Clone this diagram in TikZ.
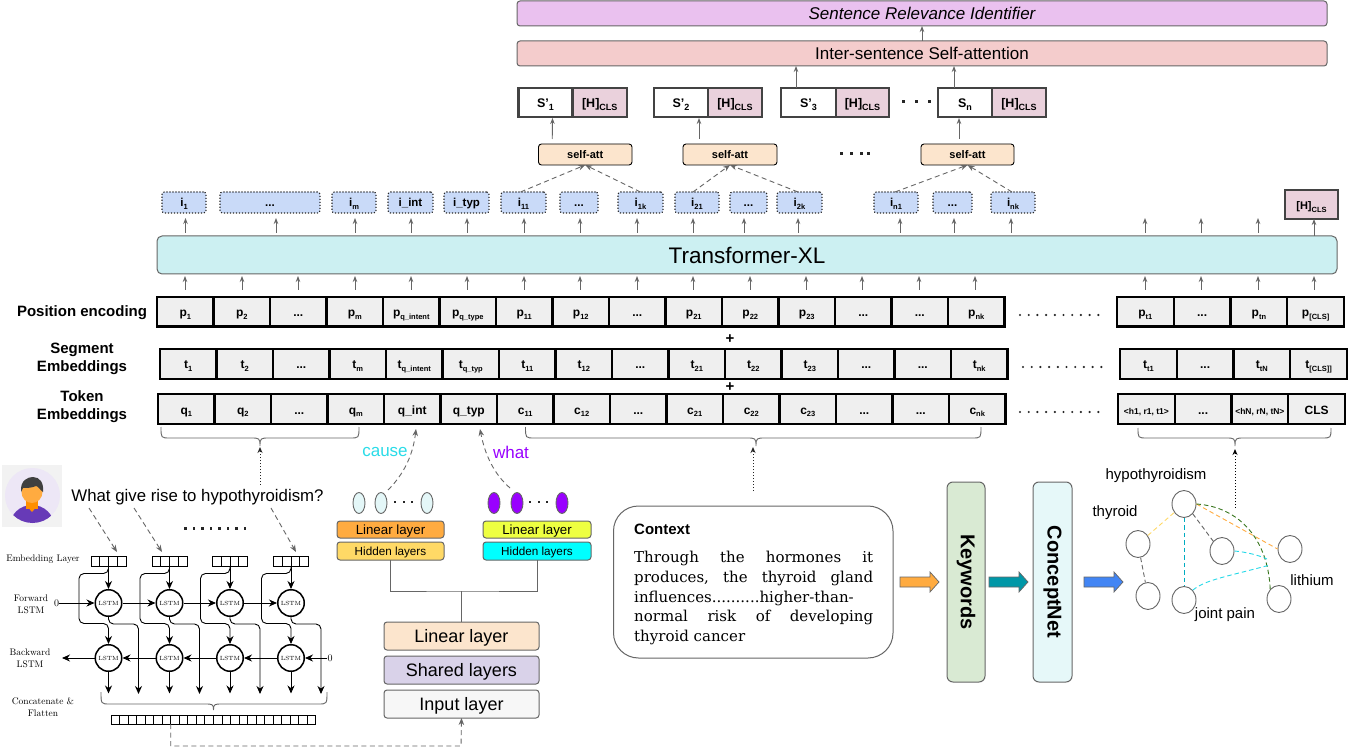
\documentclass[tikz,border=0pt]{standalone}
\usepackage{fontspec}
\setsansfont{Liberation Sans}
\renewcommand{\familydefault}{\sfdefault}
\newcommand{\lmfont}{\rmfamily}
\newfontfamily\ctxfont{DejaVu Serif}
\usetikzlibrary{arrows.meta,calc,shapes.geometric}
\definecolor{edgegray}{HTML}{666666}
\definecolor{darkbox}{HTML}{434343}
\definecolor{cellgray}{HTML}{EFEFEF}
\definecolor{ibox}{HTML}{C9DAF8}
\definecolor{hcls}{HTML}{EAD1DC}
\definecolor{selfatt}{HTML}{FCE5CD}
\definecolor{trans}{HTML}{CCF0F2}
\definecolor{relev}{HTML}{EAC1EF}
\definecolor{inter}{HTML}{F4CCCC}
\definecolor{inputc}{HTML}{F7F7F7}
\definecolor{sharedc}{HTML}{D9D2E9}
\definecolor{orangec}{HTML}{FFAB40}
\definecolor{yellowc}{HTML}{FFD966}
\definecolor{limec}{HTML}{EEFF41}
\definecolor{aquac}{HTML}{00FFFF}
\definecolor{paleell}{HTML}{E4F7F8}
\definecolor{purplec}{HTML}{9900FF}
\definecolor{causec}{HTML}{2ADCE8}
\definecolor{kwc}{HTML}{D9EAD3}
\definecolor{cnc}{HTML}{E6F8F9}
\definecolor{tealc}{HTML}{0097A7}
\definecolor{bluec}{HTML}{4285F4}
\definecolor{greenc}{HTML}{38761D}
\definecolor{tealedge}{HTML}{00ACC1}
\definecolor{cyanedge}{HTML}{26D9E8}
\definecolor{iconpurple}{HTML}{673AB7}
\definecolor{iconbg}{HTML}{EDE7F6}
\definecolor{iconcol}{HTML}{FF8F00}
\newcommand{\bx}[7]{%
 \pgfmathsetmacro\cxx{(#3+#5)/2}\pgfmathsetmacro\cyy{(#4+#6)/2}%
 \pgfmathsetmacro\ww{#5-#3}\pgfmathsetmacro\hh{#6-#4}%
 \node[#1,minimum width=\ww pt,minimum height=\hh pt,inner sep=0pt,outer sep=0pt] (#2) at (\cxx,\cyy) {#7};}
\newcommand{\sbs}[1]{\raisebox{-.45ex}{\fontsize{7.5}{7.5}\selectfont #1}}
\newcommand{\sbb}[1]{\raisebox{-.45ex}{\fontsize{9}{9}\selectfont #1}}
\newcommand{\fs}[1]{\fontsize{#1}{#1}\selectfont}
\newcommand{\dd}{...}
% cell row: prefix, x0, y1, y2, cell width, list
\newcommand{\cellrow}[6]{%
 \foreach \tx [count=\ix] in {#6}{%
  \pgfmathsetmacro\xa{#2+(\ix-1)*#5}\pgfmathsetmacro\xb{#2+\ix*#5}%
  \bx{cell}{#1\ix}{\xa}{#3}{\xb}{#4}{\tx}}}
\newcommand{\brc}[6]{% x1 x2 xt y1 y2 y3
 \draw[bracec] (#1,#4) .. controls (#1,#5) and (#1,#5) .. ($(#1,#5)+(9,0)$) -- ($(#3,#5)-(9,0)$)
  .. controls ($(#3,#5)-(1,0)$) and (#3,#5) .. (#3,#6) .. controls (#3,#5) and ($(#3,#5)+(1,0)$) .. ($(#3,#5)+(9,0)$)
  -- ($(#2,#5)-(9,0)$) .. controls (#2,#5) and (#2,#5) .. (#2,#4);}
\newcommand{\blockarrow}[2]{% x0 color
 \fill[#2,draw=edgegray,line width=.7pt] (#1,577) -- ++(30,0) -- ++(0,-5) -- ++(9,10) -- ++(-9,10) -- ++(0,-5) -- ++(-30,0) -- cycle;}
\tikzset{
 base/.style={text height=#1pt,text depth=0pt},
 cell/.style={draw=black,line width=2.2pt,fill=cellgray,font=\bfseries\fs{12},base=10},
 idot/.style={draw=black!85,line width=1.1pt,dash pattern=on 1.2pt off 1.8pt,fill=ibox,rounded corners=2.5pt,font=\bfseries\fs{11.5},base=9},
 gbox/.style={draw=edgegray,line width=1pt,rounded corners=3pt},
 sbox/.style={draw=darkbox,line width=2.2pt,fill=white,font=\bfseries\fs{12.5},base=10},
 hbox/.style={sbox,fill=hcls},
 sfa/.style={draw=black,line width=.9pt,rounded corners=3pt,fill=selfatt,font=\bfseries\fs{11},base=8},
 up/.style={-{Stealth[length=6pt,width=4.5pt]},draw=edgegray,line width=.9pt},
 dasharr/.style={-{Stealth[length=7pt,width=5.5pt]},draw=edgegray,dash pattern=on 5pt off 3.5pt,line width=.9pt},
 bracec/.style={draw=edgegray,line width=.9pt},
 lstm/.style={circle,draw=black,line width=1.5pt,fill=white,minimum size=26.5pt,inner sep=0pt,font=\lmfont\fs{6}},
 lar/.style={-{Stealth[length=8pt,width=7pt]},draw=black,line width=.9pt,rounded corners=5pt},
 lbl/.style={inner sep=0pt,font=\lmfont\fs{9.5},align=center},
 emb/.style={draw=black,line width=1pt,fill=white},
 side/.style={inner sep=0pt,font=\bfseries\fs{15},align=center},
 gnode/.style={ellipse,draw=edgegray,line width=.9pt,fill=white,minimum width=24pt,minimum height=27pt,inner sep=0pt},
 glabel/.style={inner sep=0pt,font=\fs{15}},
 oval/.style={ellipse,draw=edgegray,line width=.9pt,minimum width=12pt,minimum height=21pt,inner sep=0pt},
 gedge/.style={dash pattern=on 4.5pt off 3pt,line width=.9pt},
}
\begin{document}
\begin{tikzpicture}[x=1pt,y=-1pt]
\useasboundingbox (0,0) rectangle (1363,751);
\fill[white] (0,0) rectangle (1363,751);
% top bars
\bx{gbox,fill=relev,font=\itshape\fs{17},base=13}{rel}{517}{1}{1327}{26}{Sentence Relevance Identifier}
\bx{gbox,fill=inter,font=\fs{17},base=13}{int}{517}{41}{1327}{66}{Inter-sentence Self-attention}
\draw[up] (int.north) -- (rel.south);
% S boxes
\bx{sbox}{s1}{518.5}{88}{572.5}{117}{S'\sbb{1}}
\bx{hbox}{h1}{572.5}{88}{627}{117}{[H]\sbb{CLS}}
\bx{sbox}{s2}{654}{88}{708}{117}{S'\sbb{2}}
\bx{hbox}{h2}{708}{88}{762}{117}{[H]\sbb{CLS}}
\bx{sbox}{s3}{781}{88}{836}{117}{S'\sbb{3}}
\bx{hbox}{h3}{836}{88}{889}{117}{[H]\sbb{CLS}}
\bx{sbox}{s4}{938}{88}{992}{117}{S\sbb{n}}
\bx{hbox}{h4}{992}{88}{1046}{117}{[H]\sbb{CLS}}
\foreach \k in {902,915,928}{\fill[black!85] (\k,100) rectangle ++(3.2,3.2);}
\draw[up] (s3.north -| 796,0) -- (int.south -| 796,0);
\draw[up] (s4.north -| 954,0) -- (int.south -| 954,0);
% self-att
\bx{sfa}{sa1}{538.5}{144}{632}{165}{self-att}
\bx{sfa}{sa2}{683}{144}{777}{165}{self-att}
\bx{sfa}{sa3}{921}{144}{1014}{165}{self-att}
\foreach \k in {840,850,860,867}{\fill[black!85] (\k,152) rectangle ++(3,3);}
\draw[up] ($(sa1.north)+(-33,-5)$) -- ($(s1.south)+(7,1)$);
\draw[up] ($(sa2.north)+(-31,-5)$) -- ($(s2.south)+(18,1)$);
\draw[up] ($(sa3.north)+(-8.5,-5)$) -- ($(s4.south)+(-6,1)$);
% i boxes
\bx{idot}{i1}{162}{192}{206}{213}{i\sbs{1}}
\bx{idot}{i2}{220}{192}{320}{213}{...}
\bx{idot}{i3}{332}{192}{376}{213}{i\sbs{m}}
\bx{idot}{i4}{388}{192}{433}{213}{i\_int}
\bx{idot}{i5}{444}{192}{489}{213}{i\_typ}
\bx{idot}{i6}{501}{192}{546}{213}{i\sbs{11}}
\bx{idot}{i7}{560}{192}{598}{213}{...}
\bx{idot}{i8}{618}{192}{663}{213}{i\sbs{1k}}
\bx{idot}{i9}{675}{192}{719}{213}{i\sbs{21}}
\bx{idot}{i10}{730}{192}{767}{213}{...}
\bx{idot}{i11}{777}{192}{822}{213}{i\sbs{2k}}
\bx{idot}{i12}{874}{192}{918}{213}{i\sbs{n1}}
\bx{idot}{i13}{933}{192}{972}{213}{...}
\bx{idot}{i14}{991}{192}{1035}{213}{i\sbs{nk}}
\bx{hbox,font=\bfseries\fs{11}}{hc}{1285}{190}{1338}{219}{[H]\sbs{CLS}}
% dashed to self-att
\draw[dasharr] ($(i6.north)+(-3,0)$) -- (sa1.south);
\draw[dasharr] ($(i8.north)+(0,0)$) -- (sa1.south);
\draw[dasharr] ($(i9.north)+(-4,0)$) -- (sa2.south);
\draw[dasharr] ($(i11.north)+(-1.5,0)$) -- (sa2.south);
\draw[dasharr] ($(i12.north)+(-1,0)$) -- (sa3.south);
\draw[dasharr] ($(i14.north)+(-1,0)$) -- (sa3.south);
% transformer
\bx{gbox,fill=trans,rounded corners=5pt,font=\fs{22.5}}{tfm}{157}{236}{1337}{274}{Transformer-XL}
\foreach \xx in {185.5,276,355,411,467,524,580,637,693,744,798,900,954,1011,1145,1201,1258}{
 \draw[up] (\xx,233) -- (\xx,218);}
\draw[up] (1314,236) -- (hc.south -| 1314,0);
% rows
\cellrow{p}{157}{297}{326.5}{56.5}{p\sbs{1},p\sbs{2},\dd,p\sbs{m},p\sbs{q\_intent},p\sbs{q\_type},p\sbs{11},p\sbs{12},\dd,p\sbs{21},p\sbs{22},p\sbs{23},\dd,\dd,p\sbs{nk}}
\cellrow{P}{1117}{297}{326.5}{56.75}{p\sbs{t1},\dd,p\sbs{tn},p\sbs{[CLS]}}
\cellrow{t}{160}{349}{379}{56.5}{t\sbs{1},t\sbs{2},\dd,t\sbs{m},t\sbs{q\_intent},t\sbs{q\_typ},t\sbs{11},t\sbs{12},\dd,t\sbs{21},t\sbs{22},t\sbs{23},\dd,\dd,t\sbs{nk}}
\cellrow{T}{1120}{349}{379}{56.75}{t\sbs{t1},\dd,t\sbs{tN},t\sbs{[CLS]]}}
\cellrow{q}{158}{394}{424}{56.5}{q\sbs{1},q\sbs{2},\dd,q\sbs{m},q\_int,q\_typ,c\sbs{11},c\sbs{12},\dd,c\sbs{21},c\sbs{22},c\sbs{23},\dd,\dd,c\sbs{nk}}
\cellrow{Q}{1118}{394}{424}{56.75}{{\fs{8.5}<h1, r1, t1>},\dd,{\fs{8.5}<hN, rN, tN>},CLS}
\foreach \xx in {185,242,298,355,411,467,524,580,637,693,750,806,862,919,975,1145,1201,1258,1314}{
 \draw[up] (\xx,290) -- (\xx,276);}
% side labels
\node[side] (lp) at (82,312.5) {Position encoding};
\node[side] (ls) at (82,359) {Segment\\[3pt]Embeddings};
\node[side] (lt) at (82,407) {Token\\[3pt]Embeddings};
\node[inner sep=0pt,font=\bfseries\fs{15}] (pl1) at (730,339) {+};
\node[inner sep=0pt,font=\bfseries\fs{15}] (pl2) at (730,387) {+};
\foreach \k in {0,...,9}{
 \fill[black!85] ($(1020,315)+(\k*8.7,0)$) circle (1.2);
 \fill[black!85] ($(1023,367)+(\k*8.7,0)$) circle (1.2);
 \fill[black!85] ($(1020,412)+(\k*8.7,0)$) circle (1.2);}
% braces
\brc{161}{359}{260}{427}{438}{446}
\brc{525.5}{981}{756}{427}{438}{446}
\brc{1138}{1331}{1235}{428}{438}{446}
\coordinate (d1a) at (260,485); \coordinate (d1b) at (260,447);
\coordinate (d2a) at (753,491); \coordinate (d2b) at (753,447);
\coordinate (d3a) at (1235,508); \coordinate (d3b) at (1235,449);
\draw[dotted,line width=1pt,-{Stealth[length=6pt,width=5pt]},draw=black!85] (d1a) -- (d1b);
\draw[dotted,line width=1pt,-{Stealth[length=6pt,width=5pt]},draw=black!85] (d2a) -- (d2b);
\draw[dotted,line width=1pt,-{Stealth[length=6pt,width=5pt]},draw=black] (d3a) -- (d3b);
% person icon
\fill[black!5] (2,465) rectangle (62,527);
\fill[iconbg] (32.5,495.5) circle (27.5);
\begin{scope}
\clip (32.5,495.5) circle (27.5);
\fill[iconpurple] (32,526) ellipse (22 and 21);
\end{scope}
\fill[iconcol] (26,500) rectangle (38,509);
\fill[iconcol] (26,505) -- (38,505) -- (32,512) -- cycle;
\fill[orangec] (32,492) ellipse (10.5 and 11);
\fill[black!75] (21,492) .. controls (20,480) and (28,477) .. (33,477) .. controls (40,477) and (44,483) .. (43,492) .. controls (40,490) and (38,486) .. (36,486) .. controls (32,488) and (26,488) .. (23,488) -- cycle;
% question
\node[inner sep=0pt,font=\fs{16.8},anchor=center] (qu) at (197.5,497) {What give rise to hypothyroidism?};
\foreach \k in {0,...,7}{\fill[black!85] ($(184+\k*8.5,527)$) rectangle ++(2.6,2.6);}
\coordinate (qd1) at (89,508); \coordinate (qd2) at (134,508); \coordinate (qd3) at (271,508);
\coordinate (qe1) at (117,552); \coordinate (qe2) at (162,552); \coordinate (qe3) at (296,552);
\draw[dasharr] (qd1) -- (qe1);
\draw[dasharr] (qd2) -- (qe2);
\draw[dasharr] (qd3) -- (qe3);
% embedding layers
\foreach \n/\xa in {1/91,2/152,3/212.5,4/273.5}{
 \foreach \c in {0,1,2,3}{
  \pgfmathsetmacro\xl{\xa+\c*8.75}\pgfmathsetmacro\xr{\xl+8.75}
  \bx{emb}{e\n c\c}{\xl}{556}{\xr}{566}{}}
 \coordinate (em\n) at ($(e\n c1.south east)$);
 \pgfmathsetmacro\cxr{\xa+17.5}
 \node[lstm] (f\n) at (\cxr,603) {LSTM};
 \node[lstm] (b\n) at (\cxr,658) {LSTM};
 \draw[lar] (em\n) -- (f\n.north);
 \draw[lar] (em\n) -- ++(0,7.5) -- ++(-29.5,0) -- ++(0,50) -- ++(29.5,0) -- (b\n.north);
 \draw[lar] (f\n.south) -- ++(0,7) -- ++(30,0) -- ++(0,70);
 \draw[lar] (b\n.south) -- ++(0,21.5);
}
\draw[lar] (f1.east) -- (f2.west);
\draw[lar] (f2.east) -- (f3.west);
\draw[lar] (f3.east) -- (f4.west);
\draw[lar] (b4.west) -- (b3.east);
\draw[lar] (b3.west) -- (b2.east);
\draw[lar] (b2.west) -- (b1.east);
\node[lbl,font=\lmfont\fs{10}] (z1) at (56.5,603) {0};
\node[lbl,font=\lmfont\fs{10}] (z2) at (330,658) {0};
\coordinate (out) at (62,658);
\draw[lar] (z1.east) -- (f1.west);
\draw[lar] (z2.west) -- (b4.east);
\draw[lar] (b1.west) -- (out);
\node[lbl] (l1) at (43,559) {Embedding Layer};
\node[lbl] (l2) at (31,604.5) {Forward\\[2pt]LSTM};
\node[lbl] (l3) at (30,658.5) {Backward\\[2pt]LSTM};
\node[lbl] (l4) at (43,707) {Concatenate \&\\[2pt]Flatten};
\brc{101}{327}{213.5}{692}{704}{710}
\foreach \c in {0,...,23}{
  \pgfmathsetmacro\xl{111+\c*8.54}\pgfmathsetmacro\xr{\xl+8.54}
  \bx{emb}{fl\c}{\xl}{715}{\xr}{724}{}}
% multitask
\bx{gbox,fill=inputc,font=\fs{18},base=12.5}{inp}{384}{690}{539}{718}{Input layer}
\bx{gbox,fill=sharedc,font=\fs{18},base=12.5}{sha}{384}{656}{539}{684}{Shared layers}
\bx{gbox,fill=selfatt,font=\fs{18},base=13}{lin}{384}{622}{539}{650}{Linear layer}
\bx{gbox,fill=yellowc,font=\fs{11.7},base=8}{hl}{337}{542}{444}{560}{Hidden layers}
\bx{gbox,fill=orangec,font=\fs{13.3},base=10.5}{ll}{337}{521}{444}{538}{Linear layer}
\bx{gbox,fill=aquac,font=\fs{11.7},base=8}{hr}{483}{542}{591}{560}{Hidden layers}
\bx{gbox,fill=limec,font=\fs{13.3},base=10.5}{lr}{483}{521}{591}{538}{Linear layer}
\coordinate (mid) at (lin.north |- 0,591);
\draw[edgegray,line width=1pt] (lin.north) -- (mid);
\draw[edgegray,line width=1pt] (hl.south -| 390,0) |- (mid) -| (hr.south -| 537,0);
\coordinate (fd) at ($(fl6.south east)$);
\draw[dasharr,line width=.9pt] (fd) |- (461,746) -- (inp.south);
\node[oval,fill=paleell] (oa) at (359,503) {};
\node[oval,fill=paleell] (ob) at (381,503) {};
\node[oval,fill=paleell] (oc) at (427,503) {};
\node[oval,fill=purplec] (od) at (494,503) {};
\node[oval,fill=purplec] (oe) at (517,503) {};
\node[oval,fill=purplec] (of) at (562,503) {};
\foreach \k in {394,402.5,411,529,537.5,546}{\fill[black!85] (\k,501) rectangle ++(2.4,2.4);}
\coordinate (qa) at (416,429); \coordinate (qb) at (480,429);
\coordinate (qaa) at (388,490); \coordinate (qbb) at (510,488);
\draw[dasharr] (qaa) .. controls (404,474) and (413,455) .. (qa);
\draw[dasharr] (qbb) .. controls (494,474) and (485,455) .. (qb);
\node[inner sep=0pt,text=causec,font=\fs{17}] (cz) at (385,452) {cause};
\node[inner sep=0pt,text=purplec,font=\fs{17}] (wh) at (511,452) {what};
% context
\bx{draw=edgegray,line width=1pt,rounded corners=25pt}{ctx}{613.5}{506}{893}{658}{}
\node[inner sep=0pt,anchor=west,font=\bfseries\fs{15}] (ch) at (634,529.5) {Context};
\node[inner sep=0pt,anchor=north west,font=\ctxfont\fs{15}] (ct) at (634,551) {\vbox{%
 \baselineskip=19.8pt
 \hbox to 239pt{Through\hfill the\hfill hormones\hfill it}%
 \hbox to 239pt{produces,\hfill the\hfill thyroid\hfill gland}%
 \hbox to 239pt{influences..........higher-than-\hfill}%
 \hbox to 239pt{normal\hfill risk\hfill of\hfill developing}%
 \hbox to 239pt{thyroid cancer\hfill}}};
% keywords
\bx{gbox,fill=kwc,rounded corners=6pt}{kw}{947}{482}{985}{682}{}
\bx{gbox,fill=cnc,rounded corners=6pt}{cn}{1033}{482}{1072}{682}{}
\node[rotate=270,inner sep=0pt,font=\bfseries\fs{20}] (kwt) at (kw.center) {Keywords};
\node[rotate=270,inner sep=0pt,font=\bfseries\fs{20}] (cnt) at (cn.center) {ConceptNet};
\blockarrow{900}{orangec}
\blockarrow{989}{tealc}
\blockarrow{1084}{bluec}
% graph
\node[gnode] (ga) at (1184,504) {};
\node[gnode] (gb) at (1138,544) {};
\node[gnode] (gc) at (1222,551) {};
\node[gnode] (gd) at (1290,549) {};
\node[gnode] (ge) at (1148,596) {};
\node[gnode] (gf) at (1184,600) {};
\node[gnode] (gg) at (1279,599) {};
\coordinate (c1) at (1267,559); \coordinate (c2) at (1270,565);
\draw[gedge,yellowc] (gb) -- (ga);
\draw[gedge,edgegray] (gb) -- (ge);
\draw[gedge,edgegray] (ga.south east) -- (gc.north west);
\draw[gedge,tealedge] (ga) -- (gf);
\draw[gedge,orangec] (ga.east) -- (gd.west);
\draw[gedge,greenc] (ga.east) .. controls (1240,507) and (1268,540) .. (gg.north west);
\draw[gedge,cyanedge] (gc.east) .. controls (1246,552) and (1258,555) .. (c1);
\draw[gedge,cyanedge] (gf.north east) .. controls (1205,580) and (1225,577) .. (c2);
\node[glabel] (t1) at (1156,476) {hypothyroidism};
\node[glabel] (t2) at (1115,513) {thyroid};
\node[glabel] (t3) at (1312,580) {lithium};
\node[glabel] (t4) at (1225,615) {joint pain};
\end{tikzpicture}
\end{document}
